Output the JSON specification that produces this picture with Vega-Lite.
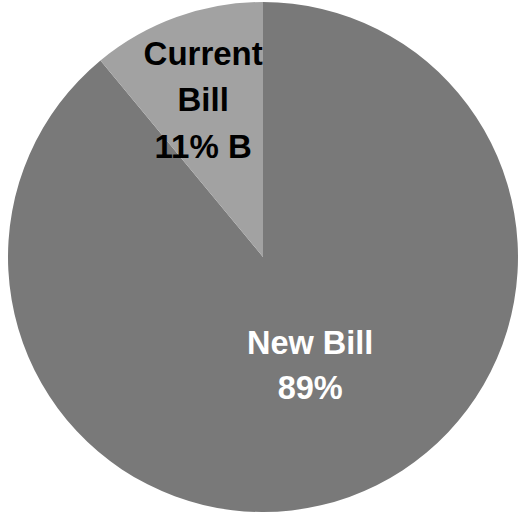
{
  "$schema": "https://vega.github.io/schema/vega-lite/v6.json",
  "width": 514,
  "height": 514,
  "padding": {"left": 6, "top": 0, "right": 0, "bottom": 4},
  "background": "white",
  "view": {"stroke": null},
  "data": {"values": [
    {"category": "New Bill", "value": 89, "label": "New Bill\n89%"},
    {"category": "Current Bill", "value": 11, "label": "Current\nBill\n11% B"}
  ]},
  "encoding": {
    "theta": {"field": "value", "type": "quantitative", "stack": true, "scale": {"domain": [0, 100]}},
    "order": {"field": "value", "type": "quantitative", "sort": "descending"}
  },
  "layer": [
    {
      "mark": {"type": "arc", "radius": 255, "stroke": null},
      "encoding": {
        "color": {"field": "category", "type": "nominal", "legend": null,
          "scale": {"domain": ["New Bill", "Current Bill"], "range": ["#797979", "#a2a2a2"]}}
      }
    },
    {
      "mark": {"type": "text", "radius": 92, "dx": 16, "font": "Liberation Sans", "fontWeight": "bold", "fontSize": 32.5, "lineBreak": "\n", "lineHeight": 45, "color": "white", "align": "center", "baseline": "middle"},
      "encoding": {
        "text": {"condition": {"test": "datum.category == 'New Bill'", "field": "label"}, "value": ""}
      }
    },
    {
      "mark": {"type": "text", "radius": 215, "dx": 13, "font": "Liberation Sans", "fontWeight": "bold", "fontSize": 33, "lineBreak": "\n", "lineHeight": 46.5, "color": "black", "align": "center", "baseline": "middle"},
      "encoding": {
        "text": {"condition": {"test": "datum.category == 'Current Bill'", "field": "label"}, "value": ""}
      }
    }
  ]
}
